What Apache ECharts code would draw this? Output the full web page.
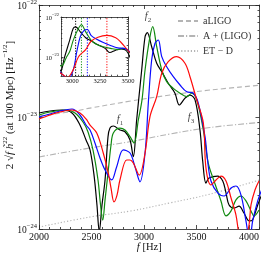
<!DOCTYPE html>
<html><head><meta charset="utf-8">
<script src="https://cdn.jsdelivr.net/npm/echarts@6/dist/echarts.min.js"></script>
<style>html,body{margin:0;padding:0;background:#fff}#c{width:262px;height:257px}</style>
</head><body><div id="c"></div>
<script>
// ---------------- data ----------------
const blackHz = [2000,2105,2219,2314,2390,2448,2486,2524,2552,2574,2600,2629,2657,2676,2708,2771,2819,2867,2898,2930,2978,3010,3031,3073,3121,3169,3231,3295,3336,3390,3438,3486,3533,3559,3590,3619,3702,3750,3781,3810,3860,3905,3952,4003,4035,4083,4120];
const blackStrain = [1.086e-23,1.131e-23,1.155e-23,1.086e-23,8.48e-24,6.23e-24,5.08e-24,3.03e-24,1.64e-24,0.95e-24,1.64e-24,2.74e-24,6.63e-24,7.97e-24,8.31e-24,7.65e-24,7.39e-24,6.23e-24,4.42e-24,9.40e-24,2.63e-23,5.21e-23,5.66e-23,4.24e-23,3.02e-23,2.54e-23,2.00e-23,1.63e-23,1.28e-23,1.47e-23,1.57e-23,1.42e-23,7.65e-24,4.05e-24,2.57e-24,2.85e-24,2.97e-24,2.68e-24,2.10e-24,1.64e-24,1.54e-24,1.60e-24,1.39e-24,1.18e-24,1.21e-24,1.64e-24,2.01e-24];

const greenHz = [2000,2105,2257,2343,2419,2467,2514,2562,2586,2607,2629,2660,2686,2708,2771,2819,2867,2905,2946,2981,3010,3057,3083,3121,3169,3216,3279,3343,3407,3454,3502,3565,3612,3667,3733,3781,3829,3876,3924,3971,4019,4048,4095];
const greenStrain = [1.042e-23,1.108e-23,1.155e-23,1.086e-23,9.02e-24,7.35e-24,5.08e-24,2.74e-24,1.64e-24,1.20e-24,1.82e-24,3.36e-24,5.62e-24,7.20e-24,7.97e-24,7.65e-24,6.67e-24,5.86e-24,9.40e-24,1.42e-23,2.63e-23,5.21e-23,6.40e-23,4.24e-23,2.63e-23,2.07e-23,1.80e-23,1.63e-23,1.52e-23,1.63e-23,1.42e-23,7.65e-24,3.88e-24,2.68e-24,1.78e-24,1.31e-24,1.45e-24,1.82e-24,1.97e-24,1.78e-24,1.45e-24,1.31e-24,1.48e-24];

const blueHz = [2000,2105,2200,2314,2390,2448,2486,2533,2581,2629,2692,2740,2803,2867,2914,2962,3010,3041,3073,3105,3136,3169,3216,3279,3343,3407,3470,3517,3581,3606,3638,3702,3762,3829,3876,3924,3971,3990,4010,4035,4083,4120];
const blueStrain = [1.00e-23,1.064e-23,1.131e-23,1.179e-23,1.042e-23,8.48e-24,7.65e-24,5.86e-24,4.31e-24,3.36e-24,2.74e-24,3.60e-24,5.08e-24,4.77e-24,3.60e-24,2.64e-24,4.77e-24,1.33e-23,3.23e-23,4.55e-23,4.87e-23,3.46e-23,2.81e-23,2.29e-23,1.93e-23,1.68e-23,1.63e-23,1.33e-23,6.67e-24,4.05e-24,2.68e-24,2.10e-24,1.97e-24,2.32e-24,2.42e-24,2.01e-24,1.18e-24,0.94e-24,0.86e-24,1.18e-24,1.78e-24,2.23e-24];

const redHz = [2000,2105,2200,2314,2390,2448,2486,2550,2612,2660,2686,2714,2743,2771,2835,2867,2898,2955,3010,3057,3121,3169,3231,3311,3390,3438,3502,3565,3590,3638,3686,3733,3781,3829,3876,3900,3924,3962,4000,4019,4057,4095];
const redStrain = [9.6e-24,1.042e-23,1.108e-23,1.155e-23,1.086e-23,9.6e-24,8.48e-24,7.20e-24,4.77e-24,3.16e-24,2.32e-24,1.75e-24,2.01e-24,2.74e-24,4.13e-24,4.13e-24,3.88e-24,3.03e-24,4.77e-24,1.006e-23,1.52e-23,2.46e-23,3.12e-23,3.46e-23,3.02e-23,2.29e-23,1.42e-23,8.84e-24,3.51e-24,2.47e-24,2.74e-24,2.97e-24,2.68e-24,1.89e-24,1.33e-24,0.94e-24,0.72e-24,0.80e-24,1.08e-24,1.64e-24,2.23e-24,2.68e-24];

const peakHz = [3031, 3083, 3136, 3311]; // black, green, blue, red

const detectorHz = [2000, 2343, 2486, 2876, 3248, 3629, 4100];
const aLIGO = [1.02e-23, 1.13e-23, 1.20e-23, 1.39e-23, 1.57e-23, 1.74e-23, 1.92e-23];
const detector2Hz = [2000, 2486, 2876, 3248, 3629, 4100];
const Aplus = [4.40e-24, 5.29e-24, 6.04e-24, 7.05e-24, 8.06e-24, 8.93e-24];
const ETD = [1.04e-24, 1.28e-24, 1.45e-24, 1.71e-24, 2.05e-24, 2.74e-24];

const legendNames = ['aLIGO', 'A + (LIGO)', 'ET − D'];
const annotNames = ['1', '2', '3'];
const annotHz = [2771, 3038, 3448];
const annotStrain = [0.94e-23, 7.8e-23, 0.98e-23];

const mainXTicks = [2000, 2500, 3000, 3500, 4000];
const mainYDecades = [-24, -23, -22];
const insetXTicks = [3000, 3250, 3500];
const insetYDecades = [-23, -22];

// ---------------- helpers ----------------
const FONT = '"Liberation Serif", "DejaVu Serif", serif';
const AX = '#222';
const TXT = '#111';
const zip = (a, b) => a.map((v, i) => [v, b[i]]);
const powLabel = n => '{b|10}{s|' + (n < 0 ? '−' + (-n) : n) + '}';
function range(a, b, step) { const r = []; for (let v = a; v <= b + 1e-9; v += step) r.push(v); return r; }
function logMinors(lo, hi) {
  const r = [];
  for (let d = -26; d <= -21; d++) for (let k = 2; k <= 9; k++) {
    const v = Math.log10(k) + d;
    if (v > lo + 1e-6 && v < hi - 1e-6) r.push(v);
  }
  return r;
}
const xAxes = [], yAxes = [];
function tickAxis(list, grid, pos, min, max, vals, len, label, z, extra) {
  const idx = list.length;
  list.push(Object.assign({
    type: 'value', gridIndex: grid, position: pos, min, max, z, nameMoveOverlap: false,
    axisLine: { show: false, onZero: false },
    axisTick: { show: true, inside: true, length: len, customValues: vals, lineStyle: { color: AX, width: 0.8 } },
    axisLabel: label ? Object.assign({ show: true, customValues: vals, hideOverlap: false }, label) : { show: false },
    splitLine: { show: false }, minorTick: { show: false }
  }, extra || {}));
  return idx;
}
function dataAxis(list, type, grid, pos, min, max, z) {
  const idx = list.length;
  const ax = {
    type, gridIndex: grid, position: pos, min, max, z,
    axisLine: { show: true, onZero: false, lineStyle: { color: AX, width: 0.8 } },
    axisTick: { show: false }, axisLabel: { show: false }, splitLine: { show: false }, minorTick: { show: false }
  };
  if (type === 'log') ax.logBase = 10;
  list.push(ax);
  return idx;
}
const richPow = (b, s) => ({
  b: { fontSize: b, fontFamily: FONT, color: TXT, lineHeight: b + 3, verticalAlign: 'bottom' },
  s: { fontSize: s, fontFamily: FONT, color: TXT, lineHeight: s + 1, verticalAlign: 'top' }
});
const numFmt = v => String(v);

// ---------- main grid axes ----------
const mainXMinor = range(2100, 4100, 100).filter(v => v % 500);
const mX = dataAxis(xAxes, 'value', 0, 'bottom', 2000, 4100, 2);
dataAxis(xAxes, 'value', 0, 'top', 2000, 4100, 2);
tickAxis(xAxes, 0, 'bottom', 2000, 4100, mainXTicks, 4,
  { margin: 3, fontSize: 10, fontFamily: FONT, color: TXT, formatter: numFmt }, 2, {
  name: '{i|f}{t| [Hz]}', nameLocation: 'middle', nameGap: 13,
  nameTextStyle: { rich: {
    i: { fontSize: 10.5, fontFamily: FONT, fontStyle: 'italic', color: TXT },
    t: { fontSize: 10.5, fontFamily: FONT, color: TXT } } }
});
tickAxis(xAxes, 0, 'bottom', 2000, 4100, mainXMinor, 2, null, 2);
tickAxis(xAxes, 0, 'top', 2000, 4100, mainXTicks, 4, null, 2);
tickAxis(xAxes, 0, 'top', 2000, 4100, mainXMinor, 2, null, 2);

const mY = dataAxis(yAxes, 'log', 0, 'left', 1e-24, 1e-22, 2);
dataAxis(yAxes, 'log', 0, 'right', 1e-24, 1e-22, 2);
tickAxis(yAxes, 0, 'left', -24, -22, mainYDecades, 4,
  { margin: 2, formatter: powLabel, rich: richPow(9.5, 6.5) }, 2, {
  name: '{t|2 √}{i|f}{t| }{i|h̃}{s|22}{t| (at 100 Mpc) [Hz}{s|−1/2}{t|]}',
  nameLocation: 'middle', nameGap: 23,
  nameTextStyle: { padding: [0, 0, 0, 24], rich: {
    t: { fontSize: 11, fontFamily: FONT, color: TXT, lineHeight: 14, verticalAlign: 'bottom' },
    i: { fontSize: 11, fontFamily: FONT, fontStyle: 'italic', color: TXT, lineHeight: 14, verticalAlign: 'bottom' },
    s: { fontSize: 7, fontFamily: FONT, color: TXT, lineHeight: 8, verticalAlign: 'top' } } }
});
tickAxis(yAxes, 0, 'left', -24, -22, logMinors(-24, -22), 2, null, 2);
tickAxis(yAxes, 0, 'right', -24, -22, mainYDecades, 4, null, 2);
tickAxis(yAxes, 0, 'right', -24, -22, logMinors(-24, -22), 2, null, 2);

// ---------- inset axes ----------
const insetMin = 3.3e-24, insetMax = 1e-22;
const insetLo = Math.log10(insetMin), insetHi = Math.log10(insetMax);
const insetXMinor = range(2950, 3450, 50).filter(v => v !== 3000 && v !== 3250);
const iX = dataAxis(xAxes, 'value', 1, 'bottom', 2900, 3500, 7);
dataAxis(xAxes, 'value', 1, 'top', 2900, 3500, 7);
tickAxis(xAxes, 1, 'bottom', 2900, 3500, insetXTicks, 2.5,
  { margin: 2, fontSize: 6.5, fontFamily: FONT, color: TXT, formatter: numFmt }, 7);
tickAxis(xAxes, 1, 'bottom', 2900, 3500, insetXMinor, 1.3, null, 7);
tickAxis(xAxes, 1, 'top', 2900, 3500, insetXTicks, 2.5, null, 7);
tickAxis(xAxes, 1, 'top', 2900, 3500, insetXMinor, 1.3, null, 7);
const iY = dataAxis(yAxes, 'log', 1, 'left', insetMin, insetMax, 7);
dataAxis(yAxes, 'log', 1, 'right', insetMin, insetMax, 7);
tickAxis(yAxes, 1, 'left', insetLo, insetHi, insetYDecades, 2.5,
  { margin: 2, formatter: powLabel, rich: richPow(6.5, 4.5) }, 7);
tickAxis(yAxes, 1, 'left', insetLo, insetHi, logMinors(insetLo, insetHi), 1.3, null, 7);
tickAxis(yAxes, 1, 'right', insetLo, insetHi, insetYDecades, 2.5, null, 7);
tickAxis(yAxes, 1, 'right', insetLo, insetHi, logMinors(insetLo, insetHi), 1.3, null, 7);

// ---------------- series ----------------
const curves = [
  { hz: blackHz, h: blackStrain, color: '#000000' },
  { hz: greenHz, h: greenStrain, color: '#108a10' },
  { hz: blueHz, h: blueStrain, color: '#0a0aff' },
  { hz: redHz, h: redStrain, color: '#ff0a0a' }
];
const series = [];
const GREY = '#b4b4b4';
const greyDefs = [
  { name: legendNames[0], hz: detectorHz, h: aLIGO, type: [5, 3] },
  { name: legendNames[1], hz: detector2Hz, h: Aplus, type: [6, 2, 1.2, 2] },
  { name: legendNames[2], hz: detector2Hz, h: ETD, type: [1.2, 2] }
];
greyDefs.forEach(g => series.push({
  type: 'line', name: g.name, xAxisIndex: mX, yAxisIndex: mY, data: zip(g.hz, g.h),
  smooth: 0.4, symbol: 'none', showSymbol: false, silent: true, z: 1,
  lineStyle: { color: GREY, width: 1.1, type: g.type }, itemStyle: { color: GREY }
}));
curves.forEach(c => series.push({
  type: 'line', xAxisIndex: mX, yAxisIndex: mY, data: zip(c.hz, c.h),
  smooth: 0.35, symbol: 'none', showSymbol: false, silent: true, clip: true, z: 2,
  lineStyle: { color: c.color, width: 1.2 }, itemStyle: { color: c.color }
}));
curves.forEach((c, i) => {
  series.push({
    type: 'line', xAxisIndex: iX, yAxisIndex: iY, data: [[peakHz[i], insetMin], [peakHz[i], insetMax]],
    symbol: 'none', showSymbol: false, silent: true, clip: true, z: 7,
    lineStyle: { color: c.color, width: 1, type: [1.2, 1.5] }, itemStyle: { color: c.color }
  });
});
curves.forEach(c => series.push({
  type: 'line', xAxisIndex: iX, yAxisIndex: iY, data: zip(c.hz, c.h),
  smooth: 0.35, symbol: 'none', showSymbol: false, silent: true, clip: true, z: 8,
  lineStyle: { color: c.color, width: 1.1 }, itemStyle: { color: c.color }
}));
series.push({
  type: 'scatter', xAxisIndex: mX, yAxisIndex: mY, symbolSize: 0, silent: true, z: 3,
  data: annotHz.map((f, i) => ({ value: [f, annotStrain[i]], name: annotNames[i] })),
  label: { show: true, position: 'inside', formatter: p => '{i|f}{n|' + p.name + '}',
    rich: {
      i: { fontSize: 10.5, fontFamily: FONT, fontStyle: 'italic', color: TXT, lineHeight: 13, verticalAlign: 'top' },
      n: { fontSize: 7, fontFamily: FONT, color: TXT, lineHeight: 8, verticalAlign: 'bottom' } } }
});

const chart = echarts.init(document.getElementById('c'), null, { renderer: 'canvas' });
chart.setOption({
  animation: false,
  backgroundColor: '#fff',
  grid: [
    { left: 39, top: 5, width: 220.5, height: 224, containLabel: false, outerBoundsMode: 'none' },
    { left: 61, top: 17, width: 67, height: 59, containLabel: false, outerBoundsMode: 'none', show: true, backgroundColor: '#fff', borderWidth: 0, z: 5 }
  ],
  legend: {
    data: legendNames, orient: 'vertical', left: 172, top: 11, itemWidth: 20, itemHeight: 10, itemGap: 5,
    selectedMode: false, itemStyle: { opacity: 0, borderWidth: 0 },
    textStyle: { fontFamily: FONT, fontSize: 10, color: '#333', lineHeight: 10, padding: [0, 0, 0, 0] }
  },
  xAxis: xAxes,
  yAxis: yAxes,
  series
});
</script></body></html>
